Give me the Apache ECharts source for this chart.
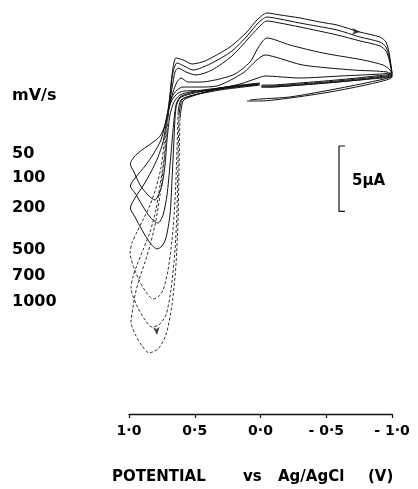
<!DOCTYPE html>
<html>
<head>
<meta charset="utf-8">
<script src="https://cdn.jsdelivr.net/npm/echarts@6/dist/echarts.min.js"></script>
<style>
html, body { margin: 0; background: #fff; }
#cv { width: 418px; height: 489px; }
</style>
</head>
<body>
<div id="cv"></div>
<script>
// scan rates (mV/s)
var rates = ['50', '100', '200', '500', '700', '1000'];
var ticks = [1.0, 0.5, 0.0, -0.5, -1.0];

// potential (V vs Ag/AgCl) and current (uA) for each scan, in scan order
var e50 = [0.019, 0.308, 0.536, 0.612, 0.658, 0.688, 0.711, 0.726, 0.749, 0.779, 0.802, 0.855, 0.916, 0.962, 0.99, 0.962, 0.901, 0.825, 0.764, 0.726, 0.703, 0.673, 0.627, 0.574, 0.384, 0.156, 0.019, -0.034, -0.300, -0.605, -0.909, -0.992, -1.0, -0.833, -0.529, -0.224, 0.004, 0.103];
var c50 = [1.15, 0.93, 0.62, 0.39, -0.15, -1.14, -3.05, -4.96, -6.49, -7.33, -7.64, -7.26, -6.49, -5.50, -4.89, -4.35, -3.81, -3.28, -2.75, -1.90, -0.91, 0.01, 0.54, 0.70, 0.77, 1.23, 1.69, 1.84, 1.69, 1.84, 1.99, 2.07, 1.76, 1.23, 0.62, 0.16, -0.07, -0.07];

var e100 = [0.019, 0.308, 0.536, 0.612, 0.643, 0.665, 0.688, 0.711, 0.741, 0.779, 0.840, 0.901, 0.954, 0.99, 0.947, 0.878, 0.810, 0.757, 0.726, 0.703, 0.673, 0.635, 0.589, 0.460, 0.331, 0.133, 0.027, -0.034, -0.110, -0.323, -0.703, -0.962, -1.0, -0.833, -0.529, -0.224, 0.004, 0.080];
var c100 = [1.23, 0.85, 0.54, 0.24, -0.37, -2.29, -4.96, -7.26, -8.78, -9.40, -8.94, -8.02, -7.11, -6.57, -5.88, -5.04, -4.05, -3.05, -1.90, -0.76, 0.24, 0.77, 1.00, 1.00, 1.08, 2.07, 3.07, 3.45, 3.30, 2.68, 2.30, 2.15, 1.84, 1.38, 0.77, 0.24, 0.08, 0.01];

var e200 = [0.011, 0.308, 0.536, 0.612, 0.643, 0.658, 0.673, 0.688, 0.719, 0.749, 0.787, 0.840, 0.901, 0.954, 0.99, 0.954, 0.894, 0.833, 0.779, 0.741, 0.719, 0.696, 0.665, 0.635, 0.605, 0.551, 0.460, 0.209, 0.080, 0.019, -0.049, -0.224, -0.475, -0.779, -0.932, -0.985, -1.0, -0.833, -0.582, -0.300, -0.072, -0.004];
var c200 = [1.23, 0.93, 0.46, 0.16, -0.61, -3.05, -6.11, -8.78, -10.55, -11.16, -11.38, -10.92, -9.93, -8.94, -8.25, -7.48, -6.57, -5.50, -4.35, -3.20, -1.90, -0.60, 0.62, 1.38, 1.69, 1.38, 1.38, 1.92, 2.91, 3.98, 4.75, 4.21, 3.60, 3.07, 2.68, 2.30, 1.84, 1.61, 1.38, 1.15, 1.00, 1.00];

var e500 = [0.004, 0.308, 0.536, 0.605, 0.627, 0.635, 0.650, 0.673, 0.703, 0.741, 0.779, 0.817, 0.871, 0.924, 0.970, 0.992, 0.977, 0.939, 0.894, 0.840, 0.795, 0.757, 0.734, 0.711, 0.688, 0.665, 0.650, 0.627, 0.567, 0.490, 0.369, 0.217, 0.095, 0.019, -0.049, -0.148, -0.300, -0.582, -0.757, -0.909, -0.954, -0.977, -0.992, -1.0, -0.871, -0.582, -0.300, -0.072, -0.011];
var c500 = [1.15, 0.77, 0.31, 0.01, -0.91, -3.81, -7.64, -10.70, -12.99, -14.52, -15.05, -15.21, -14.67, -13.75, -12.61, -11.69, -10.92, -10.08, -9.17, -8.02, -6.72, -5.19, -3.43, -1.52, 0.01, 1.38, 2.15, 2.45, 2.15, 1.92, 2.30, 3.37, 4.67, 5.51, 6.05, 5.89, 5.59, 4.98, 4.52, 4.14, 3.75, 3.14, 2.45, 1.92, 1.69, 1.38, 1.15, 1.00, 1.00];

var e700 = [0.004, 0.308, 0.536, 0.597, 0.620, 0.627, 0.635, 0.650, 0.681, 0.719, 0.772, 0.825, 0.878, 0.932, 0.970, 0.985, 0.970, 0.939, 0.894, 0.840, 0.795, 0.764, 0.734, 0.719, 0.703, 0.681, 0.665, 0.635, 0.582, 0.513, 0.384, 0.217, 0.095, 0.019, -0.049, -0.148, -0.300, -0.582, -0.757, -0.909, -0.954, -0.977, -0.992, -1.0, -0.871, -0.582, -0.300, -0.072, -0.004];
var c700 = [1.23, 0.85, 0.31, 0.01, -1.14, -4.58, -8.40, -11.46, -14.52, -16.43, -17.19, -17.35, -16.81, -15.89, -14.98, -14.37, -13.52, -12.61, -11.46, -10.08, -8.40, -6.49, -4.58, -2.67, -0.76, 0.93, 2.15, 2.84, 2.61, 2.30, 2.76, 3.75, 4.98, 5.89, 6.35, 6.20, 5.89, 5.36, 4.82, 4.44, 4.06, 3.37, 2.61, 1.99, 1.76, 1.46, 1.23, 1.08, 1.08];

var e1000 = [0.004, 0.308, 0.536, 0.589, 0.612, 0.620, 0.627, 0.643, 0.673, 0.719, 0.779, 0.848, 0.901, 0.947, 0.985, 0.970, 0.954, 0.924, 0.878, 0.833, 0.795, 0.764, 0.741, 0.719, 0.703, 0.688, 0.673, 0.643, 0.589, 0.521, 0.422, 0.232, 0.103, 0.027, -0.049, -0.148, -0.300, -0.452, -0.582, -0.757, -0.909, -0.954, -0.977, -0.992, -1.0, -0.871, -0.582, -0.300, -0.072, -0.011];
var c1000 = [1.31, 0.93, 0.24, -0.07, -1.37, -5.34, -9.17, -12.61, -15.66, -17.96, -19.03, -19.33, -18.80, -18.03, -16.96, -15.89, -14.90, -13.75, -12.38, -10.85, -9.17, -7.25, -5.34, -3.43, -1.37, 0.39, 1.92, 3.22, 3.07, 2.76, 2.99, 4.06, 5.21, 6.12, 6.66, 6.51, 6.28, 5.97, 5.74, 5.20, 4.82, 4.44, 3.68, 2.68, 2.07, 1.84, 1.54, 1.31, 1.15, 1.15];

// direction arrows [V, uA, rotation]
var arrows = [[-0.757, 5.20, -95], [0.787, -17.96, 185]];
// 5 uA scale bar
var barV = -0.597, barTop = -3.51, barLen = 5;

var allE = [e50, e100, e200, e500, e700, e1000];
var allC = [c50, c100, c200, c500, c700, c1000];
var fast = { '500': true, '700': true, '1000': true };

var FONT = '"DejaVu Sans", sans-serif';

function pairs(e, c) {
    return e.map(function (v, k) { return [v, c[k]]; });
}

// split a scan into a solid part and a dotted part (fast pen in the low region)
function split(pts, thr) {
    var n = pts.length, segDash = [], solid = [], dash = [];
    for (var k = 0; k < n - 1; k++) {
        segDash.push(pts[k][1] < thr || pts[k + 1][1] < thr);
    }
    for (var j = 0; j < n; j++) {
        var s = (j > 0 && !segDash[j - 1]) || (j < n - 1 && !segDash[j]);
        var d = (j > 0 && segDash[j - 1]) || (j < n - 1 && segDash[j]);
        solid.push(s ? pts[j] : ['-', '-']);
        dash.push(d ? pts[j] : ['-', '-']);
    }
    return { solid: solid, dash: dash };
}

var series = [];
rates.forEach(function (r, idx) {
    var pts = pairs(allE[idx], allC[idx]);
    if (fast[r]) {
        var parts = split(pts, -2);
        series.push({
            name: r, type: 'line', data: parts.solid, showSymbol: false, smooth: 0.25,
            lineStyle: { color: '#111', width: 1 }, silent: true
        });
        series.push({
            name: r + ' dotted', type: 'line', data: parts.dash, showSymbol: false, smooth: 0.25,
            lineStyle: { color: '#333', width: 1, type: [3, 2] }, silent: true
        });
    } else {
        series.push({
            name: r, type: 'line', data: pts, showSymbol: false, smooth: 0.25,
            lineStyle: { color: '#111', width: 1 }, silent: true
        });
    }
});

// scale bar bracket
series.push({
    name: 'scale', type: 'line', showSymbol: false, silent: true,
    lineStyle: { color: '#111', width: 1.2 },
    data: [[barV - 0.045, barTop], [barV, barTop], [barV, barTop - barLen], [barV - 0.045, barTop - barLen]]
});

series.push({
    name: 'arrows', type: 'scatter', symbol: 'arrow', symbolSize: [5, 8], silent: true,
    itemStyle: { color: '#111' },
    data: arrows.map(function (a) { return { value: [a[0], a[1]], symbolRotate: a[2] }; })
});

function fmtTick(v) {
    var s = Math.abs(v).toFixed(1).replace('.', '\u00b7');
    return v < 0 ? '- ' + s : s;
}

function txt(str, x, y, size) {
    return {
        type: 'text', x: x, y: y, silent: true,
        style: {
            text: str, fill: '#000', font: 'bold ' + size + 'px ' + FONT,
            align: 'left', verticalAlign: 'middle', textAlign: 'left', textVerticalAlign: 'middle'
        }
    };
}

var labelY = [154, 178, 208, 250, 276, 302];
var graphics = [txt('mV/s', 12, 96, 16)];
rates.forEach(function (r, k) { graphics.push(txt(r, 12, labelY[k], 16)); });
graphics.push(txt('5\u00b5A', 352, 181, 15));
graphics.push(txt('POTENTIAL', 112, 477, 15));
graphics.push(txt('vs', 243, 477, 15));
graphics.push(txt('Ag/AgCl', 278, 477, 15));
graphics.push(txt('(V)', 368, 477, 15));

var myChart = echarts.init(document.getElementById('cv'));
var option = {
    animation: false,
    backgroundColor: '#fff',
    grid: { left: 129, right: 26, top: 2, bottom: 75 },
    xAxis: {
        type: 'value', inverse: true, min: -1, max: 1, interval: 0.5,
        axisLine: { show: true, onZero: false, lineStyle: { color: '#111', width: 1.3 } },
        axisTick: { show: true, length: 4, lineStyle: { color: '#111', width: 1.2 } },
        axisLabel: {
            margin: 10, color: '#000', fontSize: 14, fontWeight: 'bold', fontFamily: FONT,
            formatter: fmtTick, showMinLabel: true, showMaxLabel: true
        },
        splitLine: { show: false }
    },
    yAxis: {
        type: 'value', min: -24, max: 7.5, show: false,
        splitLine: { show: false }
    },
    graphic: graphics,
    series: series
};
myChart.setOption(option, true);
</script>
</body>
</html>
